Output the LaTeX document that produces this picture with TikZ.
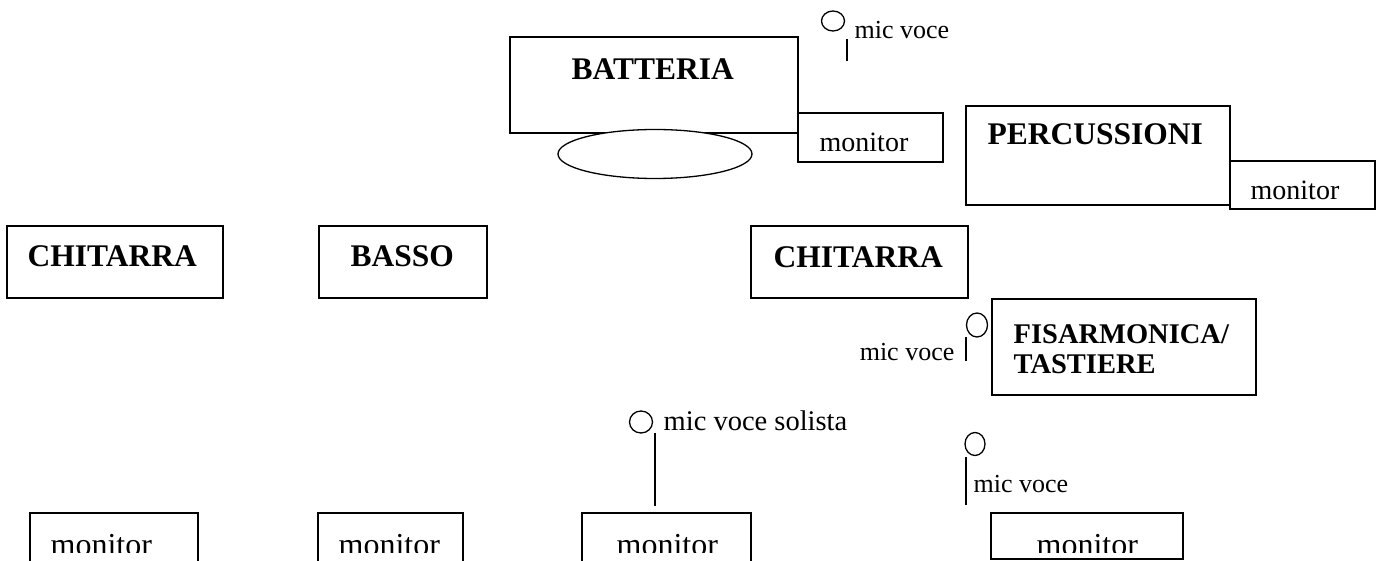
\documentclass[tikz,border=0pt]{standalone}
\usepackage{fontspec}
\setmainfont{Liberation Serif}
\usetikzlibrary{shapes.geometric}

\begin{document}
\begin{tikzpicture}[x=1pt,y=-1pt,line width=1.3pt]
%style for instrument box
\tikzstyle{ibox} = [rectangle, draw=black, inner sep=0pt]

%style for instrument name
\tikzstyle{iname} = [anchor=base west, inner sep=0pt, font=\fontsize{31.5}{34}\selectfont\bfseries]

%style for monitor text
\tikzstyle{montext} = [anchor=base west, inner sep=0pt, font=\fontsize{28}{30}\selectfont]

%style for mic head
\tikzstyle{mic} = [ellipse, draw=black, inner sep=0pt, minimum width=22, minimum height=22]

%style for mic text
\tikzstyle{mictext} = [anchor=base west, inner sep=0pt, font=\fontsize{26}{28}\selectfont]

\clip (0,0) rectangle (1379,561);

%place boxes
\node[ibox, minimum width=288, minimum height=96] (batteria) at (654,85) {};
\node[ibox, minimum width=264, minimum height=99] (percussioni) at (1098,155.5) {};
\node[ibox, minimum width=145, minimum height=48] (monPerc) at (1302.5,185) {};
\node[ibox, minimum width=216, minimum height=72] (chitarraSx) at (115,262) {};
\node[ibox, minimum width=168, minimum height=72] (basso) at (403,262) {};
\node[ibox, minimum width=217, minimum height=72] (chitarraDx) at (859.5,262) {};
\node[ibox, minimum width=264, minimum height=96] (fisarmonica) at (1124,347) {};

%drum kit
\node[ellipse, draw=black, fill=white, minimum width=194, minimum height=49] (cassa) at (655,154) {};
\node[ibox, fill=white, minimum width=145, minimum height=49] (monBatteria) at (870.5,137.5) {};

%bottom monitors
\node[ibox, minimum width=168, minimum height=87] (mon1) at (114,556.5) {};
\node[ibox, minimum width=145, minimum height=87] (mon2) at (390.5,556.5) {};
\node[ibox, minimum width=169, minimum height=87] (mon3) at (666.5,556.5) {};
\node[ibox, minimum width=192, minimum height=46] (mon4) at (1087,536) {};

%place texts
\node[iname] (batteriaText) at (571,80) {BATTERIA};
\node[iname] (percussioniText) at (987,145) {PERCUSSIONI};
\node[iname] (chitarraSxText) at (27,267) {CHITARRA};
\node[iname] (bassoText) at (350,267) {BASSO};
\node[iname] (chitarraDxText) at (773,268) {CHITARRA};
\node[iname, font=\fontsize{28.5}{30}\selectfont\bfseries] (fisText1) at (1013,344) {FISARMONICA/};
\node[iname, font=\fontsize{28.5}{30}\selectfont\bfseries] (fisText2) at (1013,373) {TASTIERE};
\node[montext] (monBatteriaText) at (819,152) {monitor};
\node[montext] (monPercText) at (1250,200) {monitor};

\begin{scope}
\clip (0,0) rectangle (1379,552);
\node[montext, font=\fontsize{32}{34}\selectfont] (mon1Text) at (50,555) {monitor};
\node[montext, font=\fontsize{32}{34}\selectfont] (mon2Text) at (338,555) {monitor};
\node[montext, font=\fontsize{32}{34}\selectfont] (mon3Text) at (616,555) {monitor};
\node[montext, font=\fontsize{32}{34}\selectfont] (mon4Text) at (1036,555) {monitor};
\end{scope}

%place mics
\node[mic, minimum width=23, minimum height=20] (micTop) at (833,21) {};
\node[mictext] (micTopText) at (854,39) {mic voce};
\coordinate (micTopA) at (847,39);
\coordinate (micTopB) at (847,61);
\draw (micTopA) -- (micTopB);

\node[mic, minimum width=21, minimum height=24] (micFis) at (977,325) {};
\node[mictext, anchor=base east] (micFisText) at (955,360) {mic voce};
\coordinate (micFisA) at (966,337);
\coordinate (micFisB) at (966,361);
\draw (micFisA) -- (micFisB);

\node[mic, minimum width=23, minimum height=22] (micSolista) at (641,422) {};
\node[mictext, font=\fontsize{28.5}{30}\selectfont] (micSolistaText) at (663,430) {mic voce solista};
\coordinate (micSolistaA) at (655,433);
\coordinate (micSolistaB) at (655,506);
\draw (micSolistaA) -- (micSolistaB);

\node[mic, minimum width=20, minimum height=23] (micDx) at (975,444) {};
\node[mictext] (micDxText) at (973,492) {mic voce};
\coordinate (micDxA) at (966,457);
\coordinate (micDxB) at (966,505);
\draw (micDxA) -- (micDxB);
\end{tikzpicture}
\end{document}
